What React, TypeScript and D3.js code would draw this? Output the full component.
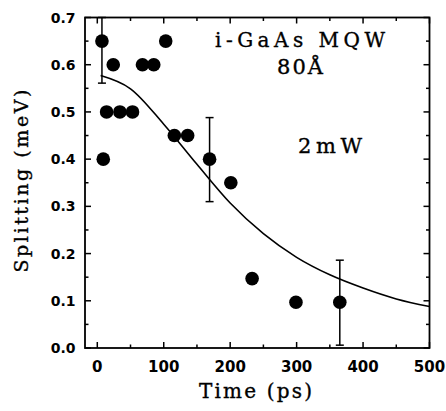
import React from "react";
import * as d3 from "d3";

const times = [7, 9, 14, 24, 34, 53, 68, 85, 103, 116, 136, 169, 201, 233, 299, 365];
const splitting = [0.65, 0.4, 0.5, 0.6, 0.5, 0.5, 0.6, 0.6, 0.65, 0.45, 0.45, 0.4, 0.35, 0.147, 0.097, 0.097];

const errTimes = [7, 169, 365];
const errLow = [0.561, 0.31, 0.006];
const errHigh = [0.7, 0.488, 0.186];

const fitTimes = [5, 50, 100, 150, 200, 250, 300, 350, 400, 450, 500];
const fitValues = [0.577, 0.549, 0.474, 0.389, 0.307, 0.242, 0.192, 0.155, 0.127, 0.104, 0.088];

const xTicks = [0, 100, 200, 300, 400, 500];
const yTicks = [0.0, 0.1, 0.2, 0.3, 0.4, 0.5, 0.6, 0.7];

const W = 446, H = 411;
const L = 85, R = 429.5, T = 17.5, B = 348;

export default function App() {
  const x = d3.scaleLinear().domain([-18.5, 500]).range([L, R]);
  const y = d3.scaleLinear().domain([0, 0.7]).range([B, T]);
  const line = d3.line<number>().x((_, i) => x(fitTimes[i])).y((d) => y(d)).curve(d3.curveMonotoneX);

  const xMinor = d3.range(0, 501, 50);
  const yMinor = d3.range(0, 0.701, 0.05);
  const serif = "'DejaVu Serif', 'Liberation Serif', serif";
  const sans = "'DejaVu Sans', sans-serif";

  return (
    <svg width={W} height={H} style={{ position: "absolute", left: 0, top: 0, background: "#fff" }}>
      <rect x={0} y={0} width={W} height={H} fill="#fff" />
      <g stroke="#000" strokeWidth={1.5}>
        {xMinor.map((v) => {
          const major = v % 100 === 0;
          const len = major ? 6 : 3.5;
          return (
            <g key={"xt" + v}>
              <line x1={x(v)} x2={x(v)} y1={B} y2={B - len} />
              <line x1={x(v)} x2={x(v)} y1={T} y2={T + len} />
            </g>
          );
        })}
        {yMinor.map((v, i) => {
          const major = i % 2 === 0;
          const len = major ? 6 : 3.5;
          return (
            <g key={"yt" + i}>
              <line x1={L} x2={L + len} y1={y(v)} y2={y(v)} />
              <line x1={R} x2={R - len} y1={y(v)} y2={y(v)} />
            </g>
          );
        })}
      </g>
      <rect x={L} y={T} width={R - L} height={B - T} fill="none" stroke="#000" strokeWidth={1.8} />
      <g fontFamily={sans} fontWeight="bold" fontSize={15} fill="#000">
        {xTicks.map((v) => (
          <text key={"xl" + v} x={x(v)} y={372} textAnchor="middle">{v}</text>
        ))}
        {yTicks.map((v) => (
          <text key={"yl" + v} x={75.5} y={y(v) + 5} textAnchor="end" fontSize={14}>{v.toFixed(1)}</text>
        ))}
      </g>
      <path d={line(fitValues) || ""} fill="none" stroke="#000" strokeWidth={1.6} />
      <g stroke="#000" strokeWidth={1.5}>
        {errTimes.map((t, i) => (
          <g key={"e" + i}>
            <line x1={x(t)} x2={x(t)} y1={y(errLow[i])} y2={y(errHigh[i])} />
            <line x1={x(t) - 4} x2={x(t) + 4} y1={y(errLow[i])} y2={y(errLow[i])} />
            <line x1={x(t) - 4} x2={x(t) + 4} y1={y(errHigh[i])} y2={y(errHigh[i])} />
          </g>
        ))}
      </g>
      {times.map((t, i) => (
        <circle key={"p" + i} cx={x(t)} cy={y(splitting[i])} r={6.8} fill="#000" />
      ))}
      <g fontFamily={serif} fill="#000" stroke="#000" strokeWidth={0.35}>
        <text x={215} y={47} fontSize={20} textLength={170} lengthAdjust="spacing">i-GaAs MQW</text>
        <text x={277} y={74} fontSize={21} textLength={46} lengthAdjust="spacing">80Å</text>
        <text x={298} y={153} fontSize={21} textLength={64} lengthAdjust="spacing">2mW</text>
        <text x={199} y={398} fontSize={20} textLength={113} lengthAdjust="spacing">Time (ps)</text>
        <text transform={`translate(28,181) rotate(-90)`} textAnchor="middle" fontSize={19} textLength={183} lengthAdjust="spacing">Splitting (meV)</text>
      </g>
    </svg>
  );
}
